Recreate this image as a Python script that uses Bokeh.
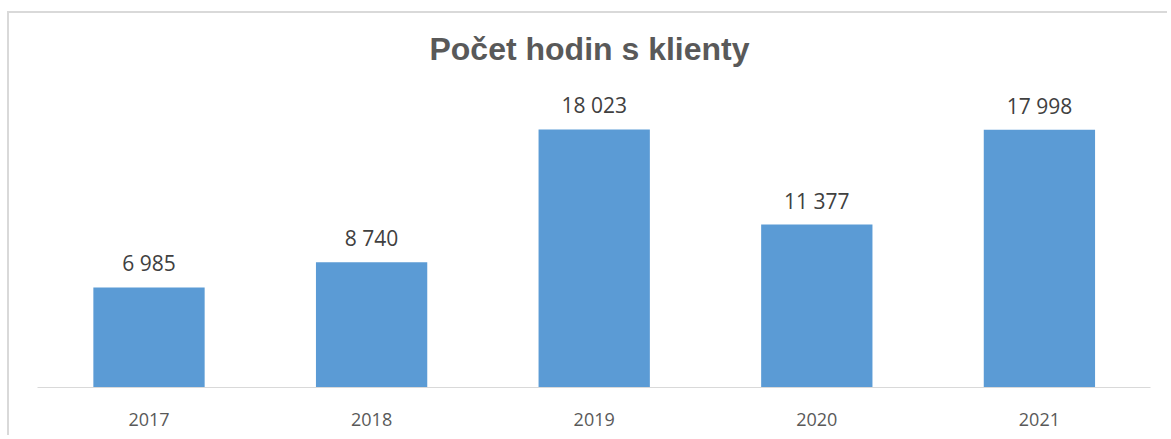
from bokeh.plotting import figure
from bokeh.models import Range1d, FixedTicker, ColumnDataSource
from bokeh.core.properties import value
from bokeh.embed import file_html
from bokeh.resources import INLINE

# ---- data ----
years = ["2017", "2018", "2019", "2020", "2021"]
hours = [6985, 8740, 18023, 11377, 17998]
title_text = "Počet hodin s klienty"

idx = list(range(len(years)))
labels = [f"{v:,}".replace(",", " ") for v in hours]
src = ColumnDataSource(dict(x=idx, top=hours, label=labels))

W, H = 1160, 424
TOP = 58

p = figure(width=W, height=H, output_backend="svg", toolbar_location=None,
           x_range=Range1d(-0.6267, 4.5844), y_range=Range1d(-3492, 22067),
           y_axis_location=None,
           min_border_left=0, min_border_right=0, min_border_bottom=0, min_border_top=TOP,
           title=title_text)
p.title.align = "center"
p.title.text_font = "Liberation Sans"
p.title.text_font_size = "32px"
p.title.text_font_style = "bold"
p.title.text_color = "#595959"
p.outline_line_color = None
p.grid.visible = False
p.background_fill_color = "white"
p.border_fill_color = "white"

p.vbar(x="x", top="top", width=0.5, bottom=0, source=src,
       fill_color="#5B9BD5", line_color=None)
p.text(x="x", y="top", text="label", source=src, text_align="center",
       text_baseline="alphabetic", y_offset=-24,
       text_font=value("Open Sans"), text_font_size="21px", text_color="#404040")

ax = p.xaxis[0]
ax.fixed_location = 0
ax.bounds = (-0.5, 4.5)
ax.ticker = FixedTicker(ticks=idx)
ax.major_label_overrides = {i: y for i, y in zip(idx, years)}
ax.major_tick_line_color = None
ax.minor_tick_line_color = None
ax.axis_line_color = "#D9D9D9"
ax.axis_line_width = 1
ax.major_label_text_font = "Open Sans"
ax.major_label_text_font_size = "18px"
ax.major_label_text_color = "#595959"
ax.major_label_standoff = 20

p.styles = {"border-left": "2px solid #D9D9D9", "border-top": "2px solid #D9D9D9",
            "margin-top": "11px", "margin-left": "7px"}

open("out.html", "w").write(file_html(p, INLINE))
